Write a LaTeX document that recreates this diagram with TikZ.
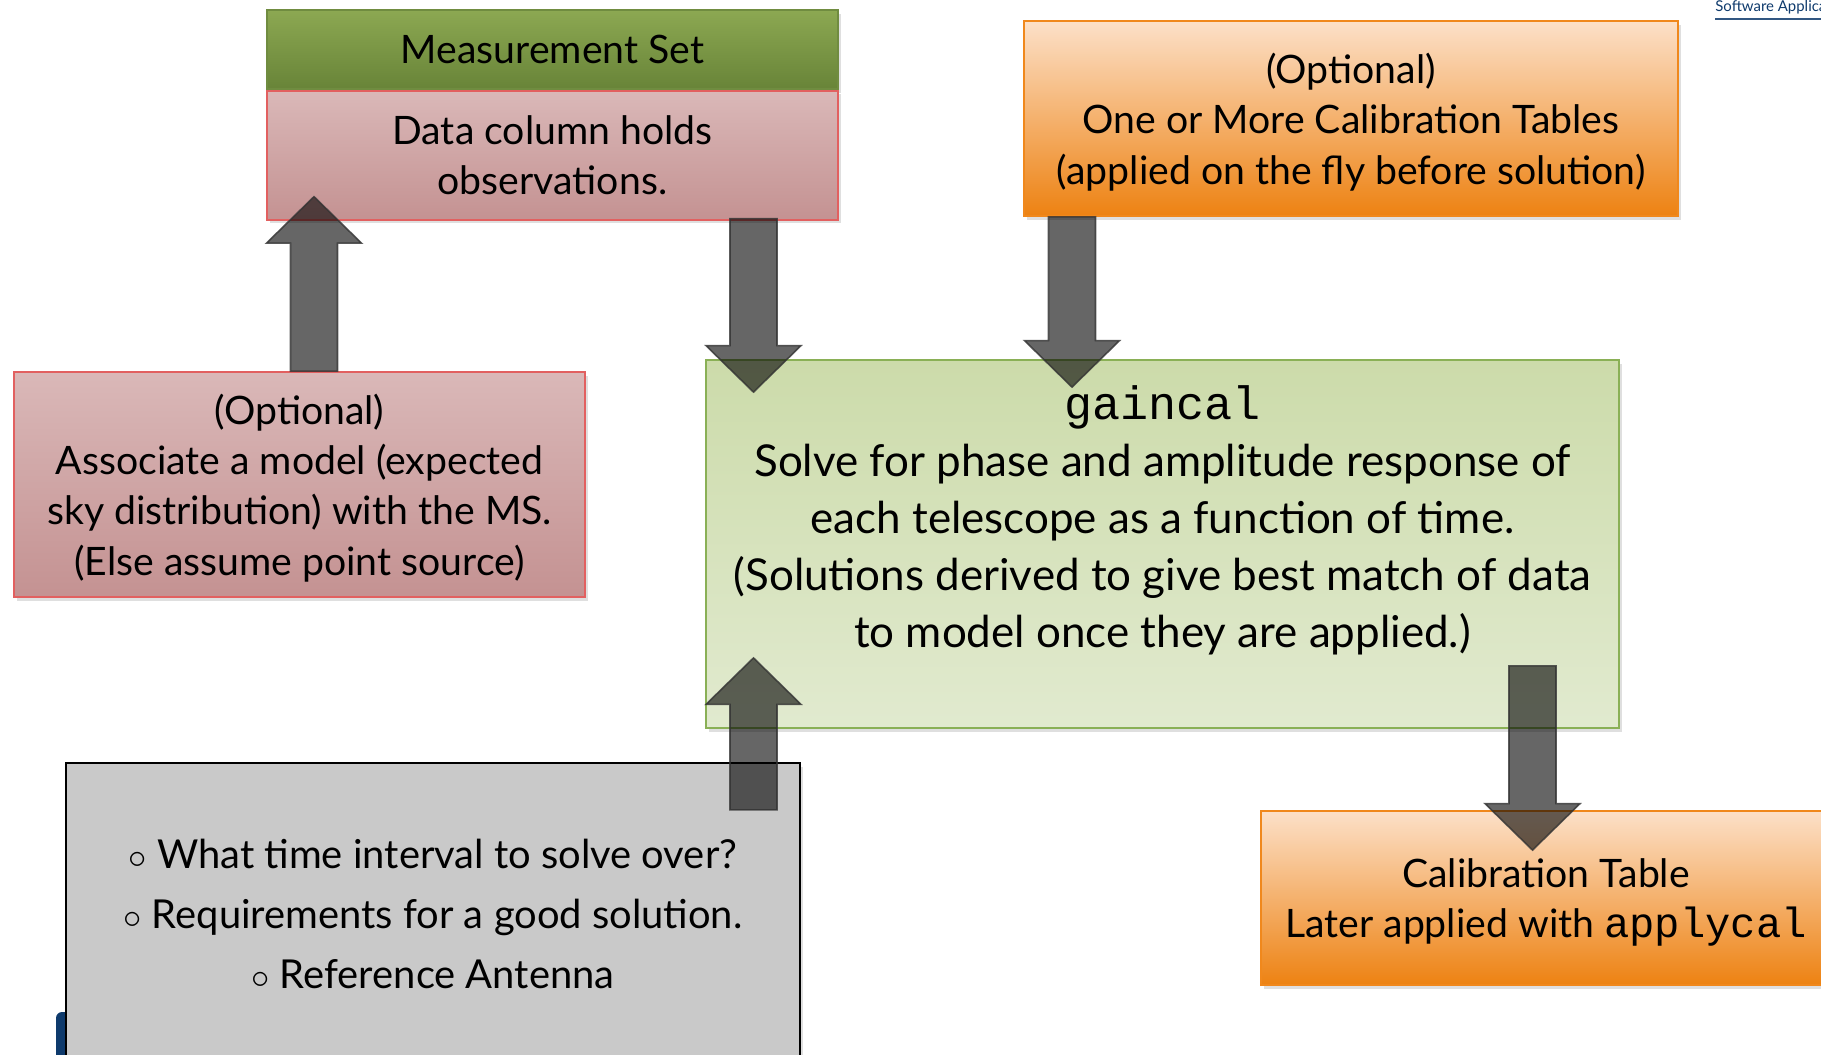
\documentclass[tikz,border=0pt]{standalone}
\usepackage{fontspec}
\setmainfont{Lato}
\setmonofont{Liberation Mono}
\usetikzlibrary{calc, shadows}

\definecolor{MSgreenTop}{RGB}{140,168,82}
\definecolor{MSgreenBot}{RGB}{104,132,56}
\definecolor{MSgreenLine}{RGB}{112,140,64}
\definecolor{PinkTop}{RGB}{218,184,184}
\definecolor{PinkBot}{RGB}{196,146,146}
\definecolor{PinkLine}{RGB}{226,96,96}
\definecolor{OrangeTop}{RGB}{252,224,200}
\definecolor{OrangeBot}{RGB}{237,130,18}
\definecolor{OrangeLine}{RGB}{240,136,28}
\definecolor{SolveTop}{RGB}{204,219,170}
\definecolor{SolveBot}{RGB}{225,234,207}
\definecolor{SolveLine}{RGB}{138,176,86}
\definecolor{ParamGray}{RGB}{201,201,201}
\definecolor{SlideBlue}{RGB}{14,58,108}

\newcommand{\shaft}{.47cm}
\newcommand{\headw}{.95cm}
\newcommand{\headl}{.93cm}
\newcommand{\blockarrow}[2]{%
  \draw[fatarrow] let \p1=(#1), \p2=(#2), \p3=($(#2)!\headl!(#1)$) in
    (\x1-\shaft,\y1) -- (\x1-\shaft,\y3) -- (\x1-\headw,\y3) -- (\x2,\y2)
    -- (\x1+\headw,\y3) -- (\x1+\shaft,\y3) -- (\x1+\shaft,\y1) -- cycle;}

\tikzset{box/.style={rectangle, draw, line width=1pt, align=center, inner sep=0pt,
                     drop shadow={opacity=.25, shadow xshift=.05cm, shadow yshift=-.07cm}}}
\tikzset{boxfont/.style={font=\fontsize{22.3}{28.7}\selectfont, text depth=-.14cm}}
\tikzset{msbox/.style={box, boxfont, top color=MSgreenTop, bottom color=MSgreenBot, draw=MSgreenLine}}
\tikzset{pinkbox/.style={box, boxfont, top color=PinkTop, bottom color=PinkBot, draw=PinkLine}}
\tikzset{orangebox/.style={box, boxfont, top color=OrangeTop, bottom color=OrangeBot, draw=OrangeLine}}
\tikzset{solvebox/.style={box, top color=SolveTop, bottom color=SolveBot, draw=SolveLine}}
\tikzset{parbox/.style={box, fill=ParamGray, draw=black, line width=1.3pt,
                        font=\fontsize{22.7}{34}\selectfont}}
\tikzset{fatarrow/.style={fill=black, fill opacity=.6, draw=black!80, draw opacity=.8,
                          line width=.9pt, line join=miter}}
\tikzset{swlink/.style={inner sep=0pt, text=SlideBlue, font=\fontsize{8.5}{10}\selectfont}}

\begin{document}
\begin{tikzpicture}
  \useasboundingbox (0,0) rectangle (36.42,-21.1);
  \clip (0,0) rectangle (36.42,-21.1);

  % --- slide leftovers ---
  \fill[SlideBlue, rounded corners=.12cm] (1.12,-20.24) rectangle (1.8,-21.6);
  \node[swlink, anchor=base west] (swapp) at (34.3,-.24) {Software Applica};
  \draw[SlideBlue!85, line width=1.1pt] ($(swapp.base west)+(0,-.14)$) -- ++(3,0);

  % --- boxes ---
  \node[parbox, minimum width=14.68cm, minimum height=6.04cm] (params) at (8.66,-18.28)
    {$\circ$ What time interval to solve over?\\
     $\circ$ Requirements for a good solution.\\
     $\circ$ Reference Antenna};

  \node[msbox, minimum width=11.42cm, minimum height=1.58cm] (msHead) at (11.05,-.99) {Measurement Set};
  \node[pinkbox, minimum width=11.42cm, minimum height=2.58cm, anchor=north] (msBody) at (msHead.south)
    {Data column holds\\observations.};

  \node[orangebox, minimum width=13.08cm, minimum height=3.9cm] (opt) at (27.02,-2.37)
    {(Optional)\\One or More Calibration Tables\\(applied on the fly before solution)};

  \node[pinkbox, minimum width=11.42cm, minimum height=4.5cm] (model) at (5.99,-9.69)
    {(Optional)\\Associate a model (expected\\sky distribution) with the MS.\\(Else assume point source)};

  \node[solvebox, minimum width=18.26cm, minimum height=7.36cm] (gaincal) at (23.25,-10.88) {};
  \node[align=center, font=\fontsize{25}{32.4}\selectfont] (gaincalText) at ($(gaincal.center)+(0,.47)$)
    {{\ttfamily\fontsize{26.6}{32.4}\selectfont gaincal}\\
     Solve for phase and amplitude response of\\
     each telescope as a function of time.\\
     (Solutions derived to give best match of data\\
     to model once they are applied.)};

  \node[orangebox, minimum width=11.4cm, minimum height=3.48cm] (calTab) at (30.92,-17.96)
    {Calibration Table\\Later applied with {\ttfamily\fontsize{24}{28.7}\selectfont applycal}};

  % --- arrows ---
  \coordinate (modelOut) at ($(model.north)+(.29,0)$);
  \coordinate (msIn) at ($(modelOut |- msBody.south)+(0,.48)$);
  \coordinate (msOut) at ($(msBody.south)+(4.02,.04)$);
  \coordinate (solveInA) at ($(msOut |- gaincal.north)+(0,-.66)$);
  \coordinate (optOut) at ($(opt.south)+(-5.58,0)$);
  \coordinate (solveInB) at ($(optOut |- gaincal.north)+(0,-.56)$);
  \coordinate (parOut) at ($(params.north)+(6.41,-.96)$);
  \coordinate (solveInC) at ($(parOut |- gaincal.south)+(0,1.42)$);
  \coordinate (solveOut) at ($(gaincal.south)+(7.4,1.26)$);
  \coordinate (calIn) at ($(solveOut |- calTab.north)+(0,-.8)$);

  \blockarrow{modelOut}{msIn}
  \blockarrow{msOut}{solveInA}
  \blockarrow{optOut}{solveInB}
  \blockarrow{parOut}{solveInC}
  \blockarrow{solveOut}{calIn}

\end{tikzpicture}
\end{document}
